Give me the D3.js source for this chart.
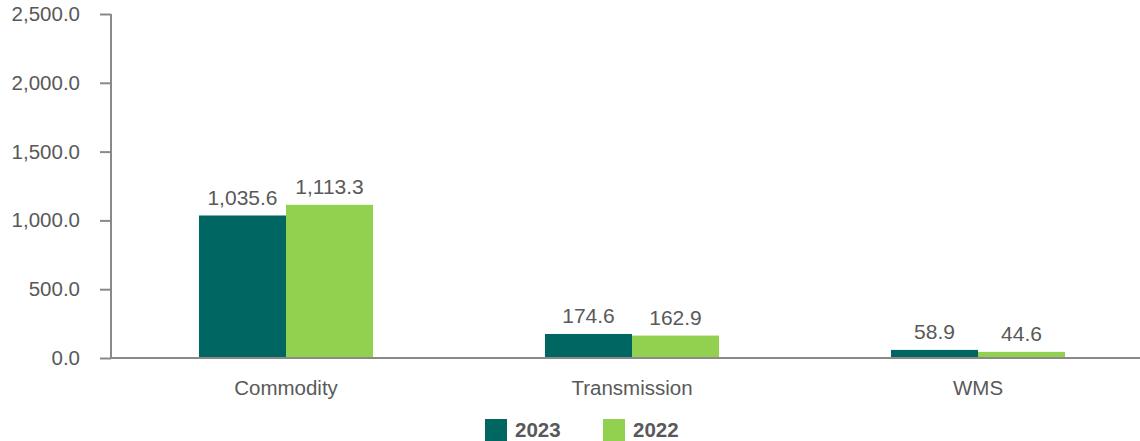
<!DOCTYPE html>
<html><head><meta charset="utf-8">
<script src="https://cdn.jsdelivr.net/npm/d3@7"></script>
<style>body{margin:0;background:#fff;}svg{display:block;font-family:"Liberation Sans",Arial,sans-serif;}</style>
</head><body>
<svg id="c" width="1140" height="441"></svg>
<script>
const categories = ["Commodity", "Transmission", "WMS"];
const seriesNames = ["2023", "2022"];
const values2023 = [1035.6, 174.6, 58.9];
const values2022 = [1113.3, 162.9, 44.6];
const yTicks = [0, 500, 1000, 1500, 2000, 2500];
const colors = ["#006661", "#92D050"];

const svg = d3.select("#c");
const y = d3.scaleLinear().domain([0, 2500]).range([358, 14]);
const x0 = d3.scaleBand().domain(categories).range([113, 1151]);
const groupW = x0.bandwidth() * 0.503;
const x1 = d3.scaleBand().domain(seriesNames).range([0, groupW]);
const series = [values2023, values2022];
const fmt = d3.format(",.1f");

// y axis
const yAxis = d3.axisLeft(y).tickValues(yTicks).tickFormat(fmt).tickSize(11).tickPadding(20);
const gy = svg.append("g").attr("transform", "translate(111,0)").call(yAxis);
gy.selectAll("path,line").attr("stroke", "#898989").attr("stroke-width", 2);
gy.select("path").attr("d", "M0,14V358");
gy.selectAll("text").attr("fill", "#595959").style("font-size", "20.5px");

// bars
categories.forEach((c, i) => {
  const gx = x0(c) + (x0.bandwidth() - groupW) / 2;
  seriesNames.forEach((s, j) => {
    const v = series[j][i];
    svg.append("rect").attr("x", gx + x1(s)).attr("y", y(v))
      .attr("width", x1.bandwidth()).attr("height", y(0) - y(v)).attr("fill", colors[j]);
    svg.append("text").attr("x", gx + x1(s) + x1.bandwidth() / 2).attr("y", y(v) - 11)
      .attr("text-anchor", "middle").attr("fill", "#595959").style("font-size", "21px").text(fmt(v));
  });
});

// x axis
const xAxis = d3.axisBottom(x0).tickSize(0).tickPadding(22);
const gx = svg.append("g").attr("transform", "translate(0,358)").call(xAxis);
gx.select("path").attr("d", "M111,0H1140").attr("stroke", "#898989").attr("stroke-width", 2);
gx.selectAll("text").attr("fill", "#595959").style("font-size", "20.5px");

// legend
const legX = [485, 603];
seriesNames.forEach((s, j) => {
  svg.append("rect").attr("x", legX[j]).attr("y", 419).attr("width", 22).attr("height", 22).attr("fill", colors[j]);
  svg.append("text").attr("x", legX[j] + 30).attr("y", 437).attr("fill", "#595959")
    .style("font-size", "20.5px").style("font-weight", "bold").text(s);
});
</script>
</body></html>
